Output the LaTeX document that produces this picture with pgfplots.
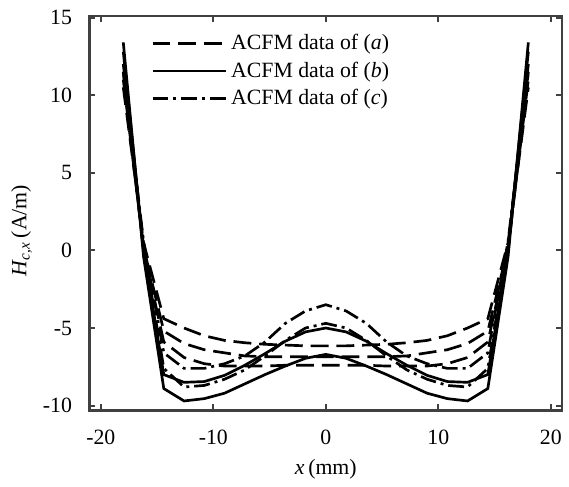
\documentclass[border={2pt 0pt 0pt 1.5pt}]{standalone}
\usepackage{fontspec}
\setmainfont{Liberation Serif}
\usepackage{pgfplots}
\usepackage{pgfplotstable}
\pgfplotsset{compat=1.18}
\pgfplotstableread{
x a1 a2 a3 b1 b2 c1 c2
-18 10.5 11.0 11.5 13.4 12.8 12.0 11.5
-16.2 0.5 0.2 0.0 -0.4 0.0 0.3 0.6
-14.4 -4.4 -5.2 -5.9 -8.9 -8.0 -7.6 -6.6
-12.6 -5.0 -6.0 -6.9 -9.7 -8.5 -8.8 -7.6
-10.8 -5.5 -6.4 -7.3 -9.55 -8.45 -8.7 -7.6
-9 -5.8 -6.6 -7.45 -9.2 -8.05 -8.3 -7.3
-7.2 -5.95 -6.8 -7.45 -8.6 -7.4 -7.7 -6.8
-5.4 -6.05 -6.85 -7.45 -8.0 -6.65 -6.8 -5.9
-3.6 -6.1 -6.85 -7.4 -7.45 -5.85 -5.8 -4.7
-1.8 -6.15 -6.85 -7.4 -6.95 -5.25 -5.0 -3.9
0 -6.15 -6.85 -7.4 -6.7 -5.0 -4.7 -3.5
1.8 -6.15 -6.85 -7.4 -6.95 -5.25 -5.0 -3.9
3.6 -6.1 -6.85 -7.4 -7.45 -5.85 -5.8 -4.7
5.4 -6.05 -6.85 -7.45 -8.0 -6.65 -6.8 -5.9
7.2 -5.95 -6.8 -7.45 -8.6 -7.4 -7.7 -6.8
9 -5.8 -6.6 -7.45 -9.2 -8.05 -8.3 -7.3
10.8 -5.5 -6.4 -7.3 -9.55 -8.45 -8.7 -7.6
12.6 -5.0 -6.0 -6.9 -9.7 -8.5 -8.8 -7.6
14.4 -4.4 -5.2 -5.9 -8.9 -8.0 -7.6 -6.6
16.2 0.5 0.2 0.0 -0.4 0.0 0.3 0.6
18 10.5 11.0 11.5 13.4 12.8 12.0 11.5
}\datatable
\begin{document}
\fontsize{11}{13}\selectfont
\begin{tikzpicture}
\begin{axis}[
  scale only axis, width=238.5pt, height=199pt,
  xmin=-21, xmax=21, ymin=-10.3, ymax=15.1,
  xtick={-20,-10,0,10,20}, ytick={-10,-5,0,5,10,15},
  tick align=inside, major tick length=3pt,
  axis line style={black!75, line width=1.3pt},
  every tick/.style={black!75, line width=1pt},
  /pgf/number format/assume math mode=true,
  xticklabel style={yshift=-6pt},
  yticklabel style={xshift=-5pt},
  xlabel={\textit{x}\,(mm)},
  ylabel={\textit{H}\textsubscript{\textit{c,x}}\,(A/m)},
  every axis y label/.append style={at={(ticklabel cs:0.455)}},
  ylabel style={yshift=-2pt},
  legend style={draw=none, fill=none, at={(0.117,0.975)}, anchor=north west, row sep=0.5pt},
  legend cell align=left,
  legend image code/.code={\draw[line width=1.35pt,#1] (0pt,0pt) -- (37pt,0pt);},
  every axis plot/.append style={black, line width=1.35pt},
]
\addplot[dash pattern=on 9pt off 4pt] table[x=x,y=a1]{\datatable};
\addlegendentry{ACFM data of (\textit{a})}
\addplot[solid] table[x=x,y=b1]{\datatable};
\addlegendentry{ACFM data of (\textit{b})}
\addplot[dash pattern=on 8pt off 2.5pt on 1.5pt off 2.5pt] table[x=x,y=c1]{\datatable};
\addlegendentry{ACFM data of (\textit{c})}
\addplot[dash pattern=on 9pt off 4pt, forget plot] table[x=x,y=a2]{\datatable};
\addplot[dash pattern=on 9pt off 4pt, forget plot] table[x=x,y=a3]{\datatable};
\addplot[solid, forget plot] table[x=x,y=b2]{\datatable};
\addplot[dash pattern=on 8pt off 2.5pt on 1.5pt off 2.5pt, forget plot] table[x=x,y=c2]{\datatable};
\end{axis}
\end{tikzpicture}
\end{document}
